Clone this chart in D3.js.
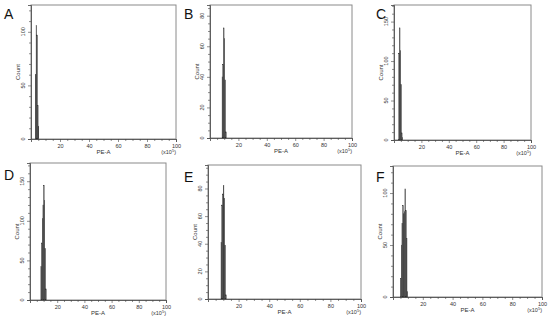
<!DOCTYPE html>
<html><head><meta charset="utf-8">
<script src="https://cdn.jsdelivr.net/npm/d3@7/dist/d3.min.js"></script>
<style>body{margin:0;background:#fff}svg{display:block;font-family:"Liberation Sans",Arial,sans-serif}</style>
</head><body><svg id="c" width="550" height="321"></svg>
<script>
const panelLabels = ["A","B","C","D","E","F"];
const xTickLabels = [20,40,60,80,100];
const binsA = [3.0,3.5,4.0,4.5,5.0];
const countsA = [60,106,97,31,12];
const binsB = [8.5,9.0,9.5,10.0,10.5,11.0];
const countsB = [40,48,72,65,38,4];
const binsC = [3.5,4.0,4.5,5.0,5.5,6.0];
const countsC = [110,142,113,70,9,3];
const binsD = [8.0,8.5,9.0,9.5,10.0,10.5,11.0,11.5];
const countsD = [42,72,103,120,145,126,65,14];
const binsE = [8.5,9.0,9.5,10.0,10.5,11.0,11.5];
const countsE = [41,68,76,82,73,39,3];
const binsF = [5.0,5.5,6.0,6.5,7.0,7.5,8.0,8.5,9.0,9.5];
const countsF = [18,50,71,88,80,82,104,83,56,5];
const yMaxes = [125,87,171,173,97,126];
const yMajorSteps = [50,20,50,50,20,50];
const yMinorSteps = [10,5,10,10,5,10];
const binWidth = 0.4;

const bins = [binsA,binsB,binsC,binsD,binsE,binsF];
const counts = [countsA,countsB,countsC,countsD,countsE,countsF];

// layout: plot box and panel letter positions
const layout = [
  {l:31,t:5,r:176,b:139,lx:4,ly:19},
  {l:210,t:5,r:352,b:138,lx:184,ly:19},
  {l:394,t:5,r:531,b:140,lx:376,ly:19},
  {l:30,t:163,r:166,b:300,lx:4,ly:180},
  {l:208,t:165,r:361,b:299,lx:184,ly:182},
  {l:393,t:166,r:542,b:297,lx:376,ly:182}
];

const svg = d3.select("#c");
const tc = "#333";

layout.forEach((L,i)=>{
  const g = svg.append("g");
  const x = d3.scaleLinear().domain([0,100]).range([L.l,L.r]);
  const y = d3.scaleLinear().domain([0,yMaxes[i]]).range([L.b,L.t]);

  g.append("rect").attr("x",L.l).attr("y",L.t).attr("width",L.r-L.l).attr("height",L.b-L.t)
    .attr("fill","none").attr("stroke","#8a8a8a").attr("stroke-width",1);

  const data = bins[i].map((v,j)=>({x:v,c:counts[i][j]}));
  g.selectAll("rect.bar").data(data).enter().append("rect").attr("class","bar")
    .attr("x",d=>x(d.x)).attr("width",d=>Math.max(0.5,x(d.x+binWidth)-x(d.x)))
    .attr("y",d=>y(d.c)).attr("height",d=>y(0)-y(d.c))
    .attr("fill","#5a5a5a").attr("stroke","#1a1a1a").attr("stroke-width",0.35);

  const xMinor = d3.range(5,100,5).filter(v=>v%20!==0);
  g.append("g").attr("transform",`translate(0,${L.b})`)
    .call(d3.axisBottom(x).tickValues(xMinor).tickSize(2).tickFormat(""))
    .call(a=>{a.select(".domain").remove();a.selectAll("line").attr("stroke","#444").attr("stroke-width",0.6);});
  g.append("g").attr("transform",`translate(0,${L.b})`)
    .call(d3.axisBottom(x).tickValues(xTickLabels).tickSize(3).tickPadding(2))
    .call(a=>{a.select(".domain").attr("stroke","#444").attr("stroke-width",0.8);
      a.selectAll("line").attr("stroke","#444").attr("stroke-width",0.6);
      a.selectAll("text").attr("font-size",5.5).attr("fill",tc).attr("font-family","Liberation Sans, Arial, sans-serif");});

  const yMax = yMaxes[i];
  const yMinor = d3.range(0,yMax+0.01,yMinorSteps[i]).filter(v=>v%yMajorSteps[i]!==0);
  const yMajor = d3.range(0,yMax+0.01,yMajorSteps[i]);
  g.append("g").attr("transform",`translate(${L.l},0)`)
    .call(d3.axisLeft(y).tickValues(yMinor).tickSize(2).tickFormat(""))
    .call(a=>{a.select(".domain").remove();a.selectAll("line").attr("stroke","#444").attr("stroke-width",0.6);});
  g.append("g").attr("transform",`translate(${L.l},0)`)
    .call(d3.axisLeft(y).tickValues(yMajor).tickSize(3).tickFormat(""))
    .call(a=>{a.select(".domain").attr("stroke","#444").attr("stroke-width",0.8);
      a.selectAll("line").attr("stroke","#444").attr("stroke-width",0.6);});
  g.selectAll("text.yl").data(yMajor).enter().append("text").attr("class","yl")
    .attr("transform",d=>`translate(${L.l-6},${y(d)}) rotate(-90)`)
    .attr("text-anchor","middle").attr("font-size",5.5).attr("fill",tc).text(d=>d);

  g.append("text").attr("x",(L.l+L.r)/2).attr("y",L.b+15).attr("text-anchor","middle")
    .attr("font-size",6).attr("fill",tc).text("PE-A");
  const u = g.append("text").attr("x",L.r).attr("y",L.b+15).attr("text-anchor","end")
    .attr("font-size",5.5).attr("fill",tc);
  u.append("tspan").text("(x10");
  u.append("tspan").attr("font-size",4).attr("dy",-2).text("5");
  u.append("tspan").attr("dy",2).text(")");
  g.append("text").attr("transform",`translate(${L.l-11},${(L.t+L.b)/2}) rotate(-90)`)
    .attr("text-anchor","middle").attr("font-size",6).attr("fill",tc).text("Count");

  g.append("text").attr("x",L.lx).attr("y",L.ly).attr("font-size",14).attr("fill","#111").text(panelLabels[i]);
});
</script></body></html>
